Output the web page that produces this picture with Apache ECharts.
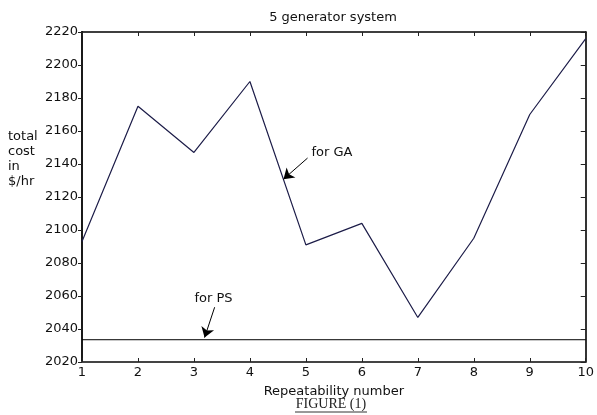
<!DOCTYPE html>
<html><head><meta charset="utf-8">
<script src="https://cdn.jsdelivr.net/npm/echarts@6/dist/echarts.min.js"></script>
<style>html,body{margin:0;padding:0;background:#fff}#c{width:597px;height:415px}</style>
</head><body><div id="c"></div>
<script>
const repeatability = [1,2,3,4,5,6,7,8,9,10];
const gaCost = [2093,2175,2147,2190,2091,2104,2047,2095,2170,2216];
const psCost = 2033.5;
const yTicks = {min:2020, max:2220, step:20};
const xTicks = {min:1, max:10, step:1};
const gaArrow = {from:[5.03,2143.6], to:[4.6,2130.8], text:[5.1,2147], label:'for GA'};
const psArrow = {from:[3.37,2053.2], to:[3.19,2034.8], text:[3.01,2058.3], label:'for PS'};

const FONT = 'DejaVu Sans';
const chart = echarts.init(document.getElementById('c'), null, {renderer:'canvas'});
chart.setOption({
  animation:false,
  backgroundColor:'#fff',
  grid:{left:82, right:10, top:32, bottom:53, containLabel:false},
  xAxis:[{
    type:'value', min:xTicks.min, max:xTicks.max, interval:xTicks.step,
    position:'bottom',
    axisLine:{show:true, onZero:false, lineStyle:{color:'#444', width:1.8}},
    axisTick:{show:true, inside:true, length:4, lineStyle:{color:'#222'}},
    axisLabel:{fontFamily:FONT, fontSize:13, color:'#111', margin:4, formatter:v=>String(v)},
    splitLine:{show:false},
    name:'Repeatability number', nameLocation:'middle', nameGap:23,
    nameTextStyle:{fontFamily:FONT, fontSize:13, color:'#111'}
  },{
    type:'value', min:xTicks.min, max:xTicks.max, interval:xTicks.step,
    position:'top',
    axisLine:{show:true, onZero:false, lineStyle:{color:'#000', width:1.6}},
    axisTick:{show:true, inside:true, length:4, lineStyle:{color:'#222'}},
    axisLabel:{show:false}, splitLine:{show:false}
  }],
  yAxis:[{
    type:'value', min:yTicks.min, max:yTicks.max, interval:yTicks.step,
    position:'left',
    axisLine:{show:true, onZero:false, lineStyle:{color:'#000', width:1.8}},
    axisTick:{show:true, inside:false, length:4, lineStyle:{color:'#222'}},
    axisLabel:{fontFamily:FONT, fontSize:13, color:'#111', margin:4, formatter:v=>String(v)},
    splitLine:{show:false}
  },{
    type:'value', min:yTicks.min, max:yTicks.max, interval:yTicks.step,
    position:'right',
    axisLine:{show:true, onZero:false, lineStyle:{color:'#000', width:1.6}},
    axisTick:{show:true, inside:true, length:5, lineStyle:{color:'#222'}},
    axisLabel:{show:false}, splitLine:{show:false}
  }],
  series:[{
    name:'GA', type:'line', xAxisIndex:0, yAxisIndex:0,
    data: repeatability.map((x,i)=>[x,gaCost[i]]),
    showSymbol:false, symbol:'none',
    lineStyle:{color:'#1c1c48', width:1.2},
    markLine:{
      silent:true, symbol:['none','arrow'], symbolSize:10,
      lineStyle:{color:'#000', width:1, type:'solid'}, label:{show:false},
      data:[
        [{coord:gaArrow.from},{coord:gaArrow.to}],
        [{coord:psArrow.from},{coord:psArrow.to}]
      ]
    },
    markPoint:{
      silent:true, symbol:'circle', symbolSize:0,
      label:{show:true, position:'right', distance:0, fontFamily:FONT, fontSize:13, color:'#111',
        formatter:p=>p.name},
      data:[
        {name:gaArrow.label, coord:gaArrow.text},
        {name:psArrow.label, coord:psArrow.text}
      ]
    }
  },{
    name:'PS', type:'line', xAxisIndex:0, yAxisIndex:0,
    data:[[xTicks.min, psCost],[xTicks.max, psCost]],
    showSymbol:false, symbol:'none',
    lineStyle:{color:'#000', width:1}
  }],
  graphic:[
    {type:'text', x:333, y:11, style:{text:'5 generator system', fontFamily:FONT, fontSize:13, fill:'#111', align:'center'}},
    {type:'text', x:8, y:129, style:{text:'total\ncost\nin\n$/hr', fontFamily:FONT, fontSize:13, lineHeight:15, fill:'#111'}},
    {type:'text', x:331, y:397, style:{text:'FIGURE (1)', fontFamily:'Liberation Serif', fontSize:14, fill:'#222', align:'center'}},
    {type:'line', shape:{x1:295, y1:412, x2:367, y2:412}, style:{stroke:'#333', lineWidth:1}}
  ]
});
</script></body></html>
